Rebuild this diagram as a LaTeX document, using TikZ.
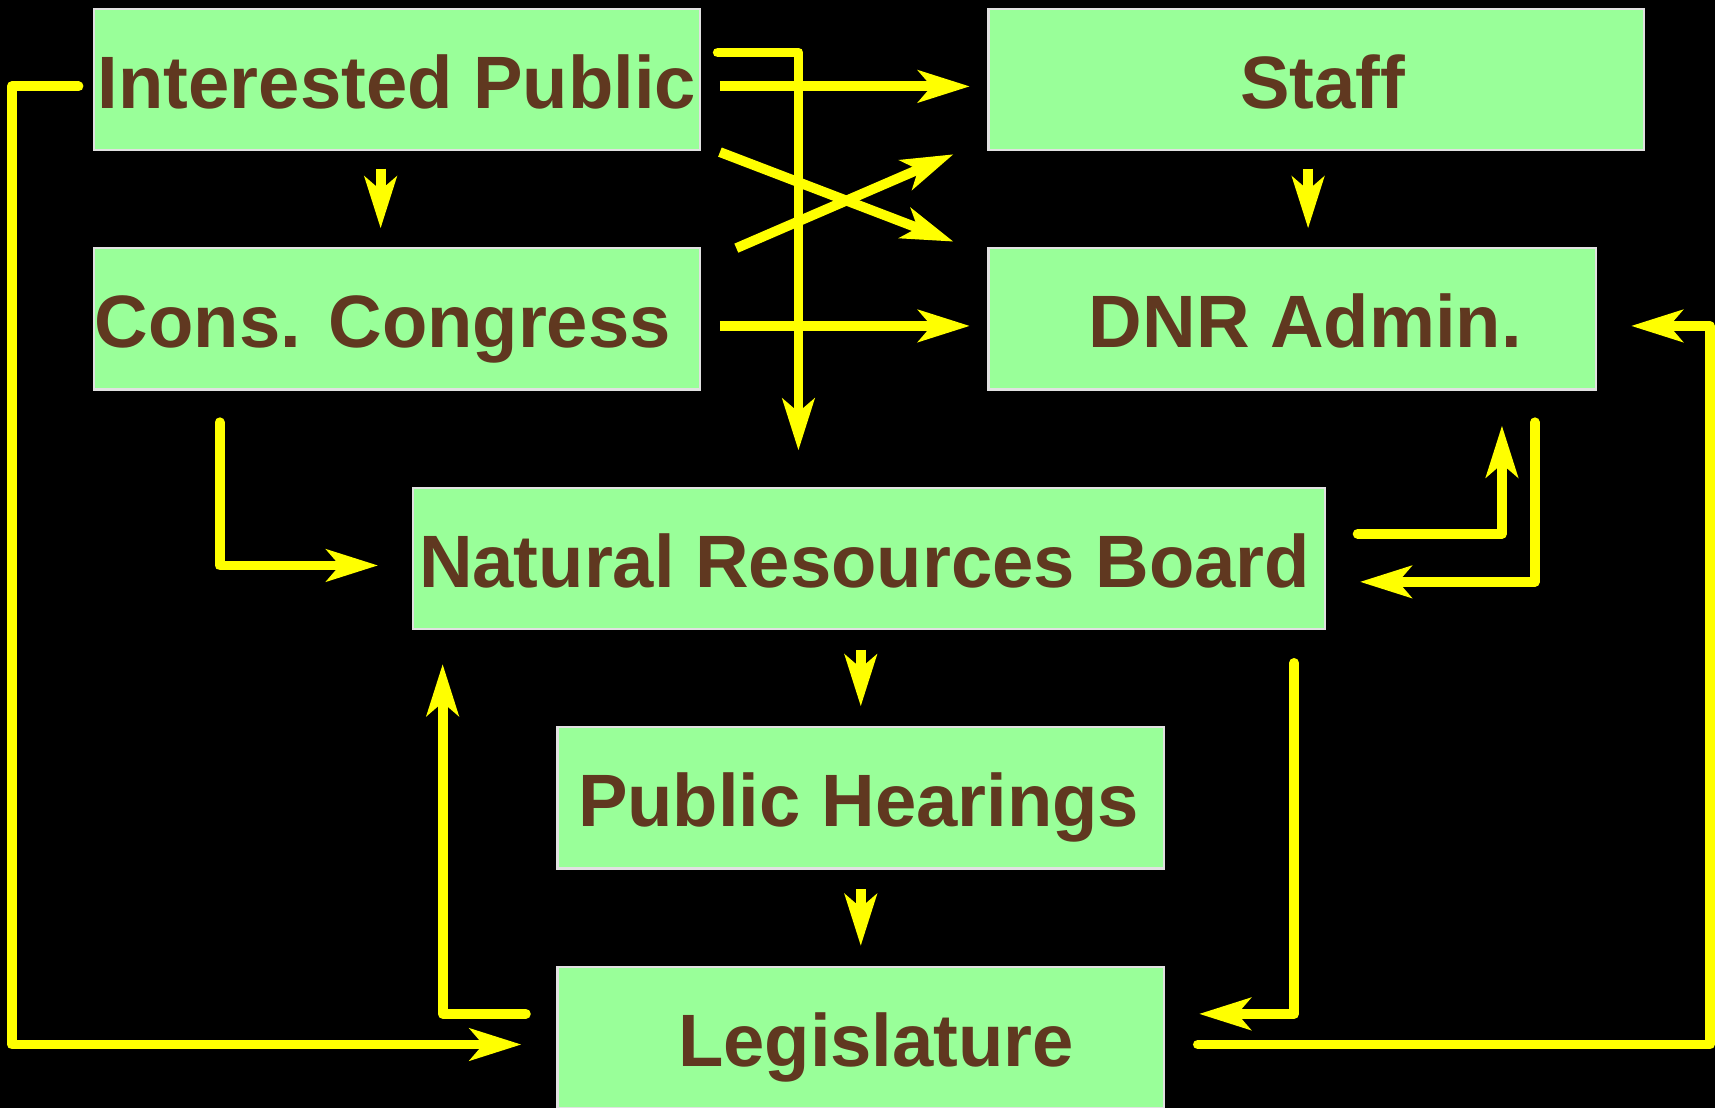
\documentclass[tikz,border=0pt]{standalone}
\usepackage{fontspec}
\setmainfont{Liberation Sans}
\usetikzlibrary{arrows.meta,calc}
\definecolor{boxgreen}{RGB}{153,255,153}
\definecolor{txtbrown}{RGB}{96,56,32}
\definecolor{arrowyellow}{RGB}{255,255,0}
\definecolor{boxedge}{RGB}{225,225,225}
\tikzset{
  orgbox/.style={draw=boxedge, line width=0.6pt, fill=boxgreen, text=txtbrown,
    font=\fontsize{19.3}{23}\selectfont\bfseries, inner sep=0pt,
    minimum height=1.29cm, text height=15pt, text depth=0pt},
  link/.style={draw=arrowyellow, line width=0.09cm, line cap=round, line join=round,
    -{Stealth[length=0.47cm,width=0.29cm,inset=0.12cm]}},
  straightlink/.style={link, line cap=butt},
}
\begin{document}
\begin{tikzpicture}[x=0.01cm, y=-0.01cm]
\fill[black] (0,0) rectangle (1568,1013);
\useasboundingbox (0,0) rectangle (1568,1013);

\node[orgbox, minimum width=5.54cm] (ip) at (363,72.5) {Interested Public};
\node[orgbox, minimum width=5.99cm] (staff) at (1203.5,72.5) {\kern0.12cm Staff};
\node[orgbox, minimum width=5.54cm] (cc) at (363,291.5) {Cons. Congress\kern0.26cm};
\node[orgbox, minimum width=5.55cm] (dnr) at (1181.5,291.5) {\kern0.24cm DNR Admin.};
\node[orgbox, minimum width=8.33cm] (nrb) at (794.5,510.5) {Natural Resources Board\kern0.08cm};
\node[orgbox, minimum width=5.54cm] (ph) at (787,729.5) {Public Hearings\kern0.04cm};
\node[orgbox, minimum width=5.54cm] (leg) at (787,948.5) {\kern0.28cm Legislature};

% Interested Public -> Legislature (left loop)
\draw[link] ($(ip.west)+(-13,6.5)$) -- ++(-61,0) |- ($(leg.west)+(-32,6.5)$);
% Interested Public -> Staff
\draw[straightlink] ($(ip.east)+(17,6.5)$) -- ($(staff.west)+(-16,6.5)$);
% Interested Public -> Natural Resources Board
\draw[link] ($(ip.east)+(15,-24.5)$) -| ($(nrb.north)+(-64.5,-33)$);
% Interested Public -> DNR Admin.
\draw[straightlink] ($(ip.south east)+(17,1)$) -- ($(dnr.north west)+(-31,-5)$);
% Cons. Congress -> Staff
\draw[straightlink] ($(cc.north east)+(32,1)$) -- ($(staff.south west)+(-31,3)$);
% Cons. Congress -> DNR Admin.
\draw[straightlink] ($(cc.east)+(17,6.5)$) -- ($(dnr.west)+(-16,6.5)$);
% Interested Public -> Cons. Congress
\draw[straightlink] ($(ip.south)+(-15,16)$) -- ($(cc.north)+(-15,-17)$);
% Staff -> DNR Admin.
\draw[straightlink] ($(staff.south)+(-7.5,16)$) -- ($(dnr.north)+(14.5,-17)$);
% Cons. Congress -> Natural Resources Board
\draw[link] ($(cc.south west)+(116,29)$) |- ($(nrb.west)+(-31,6.5)$);
% Natural Resources Board -> DNR Admin.
\draw[link] ($(nrb.east)+(29,-22.5)$) -| ($(dnr.south east)+(-87,32)$);
% DNR Admin. -> Natural Resources Board
\draw[link] ($(dnr.south east)+(-57,29)$) |- ($(nrb.east)+(31,21.5)$);
% Legislature -> DNR Admin. (right loop)
\draw[link] ($(leg.east)+(30,6.5)$) -- ++(468,0) |- ($(dnr.east)+(31,6.5)$);
% Natural Resources Board -> Legislature
\draw[link] ($(nrb.south east)+(-29,30)$) |- ($(leg.east)+(31,-21.5)$);
% Legislature -> Natural Resources Board
\draw[link] ($(leg.west)+(-28,-21.5)$) -| ($(nrb.south west)+(28,31)$);
% Natural Resources Board -> Public Hearings
\draw[straightlink] ($(nrb.south)+(-7.5,18)$) -- ($(ph.north)+(0,-18)$);
% Public Hearings -> Legislature
\draw[straightlink] ($(ph.south)+(0,18)$) -- ($(leg.north)+(0,-18)$);
\end{tikzpicture}
\end{document}
